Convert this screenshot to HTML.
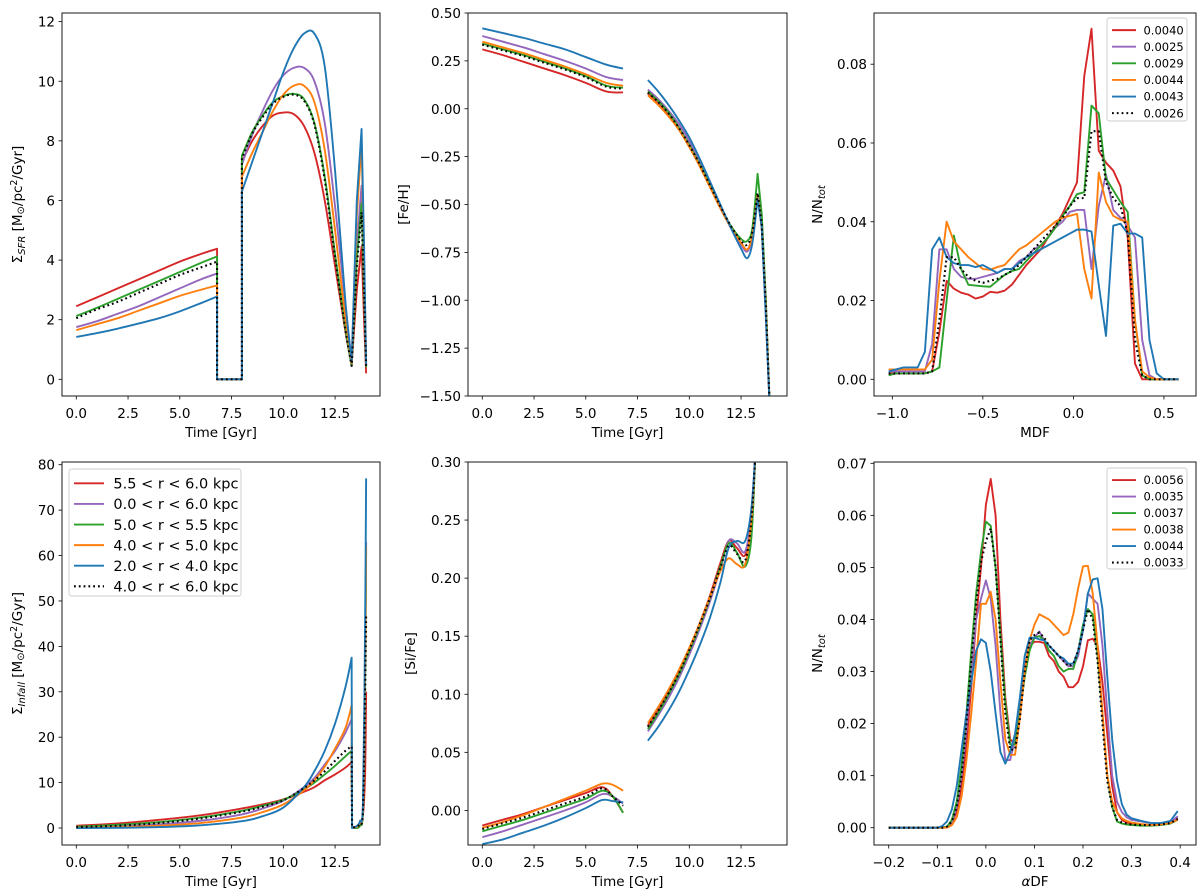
<!DOCTYPE html>
<html><head><meta charset="utf-8"><title>Chemical evolution panels</title>
<style>
html,body{margin:0;padding:0;background:#fff;}
svg{display:block;font-family:"DejaVu Sans","Liberation Sans",sans-serif;}
</style></head>
<body>
<svg id="fig" width="1200" height="892" viewBox="0 0 1200 892" xmlns="http://www.w3.org/2000/svg">
<rect width="1200" height="892" fill="#fff"/>
</svg>
<script>
const seriesNames = ['red','purple','green','orange','blue','black'];
const seriesColors = ['#d62728','#9467bd','#2ca02c','#ff7f0e','#1f77b4','#000000'];

// ---- Panel A: SFR vs time
const sfrTime = [0,1,2,3,4,5,6,6.8,6.8,8,8,8.5,9,9.5,10,10.5,11,11.5,12,12.5,13,13.3,13.55,13.78,13.9,14.0];
const sfrRed    = [2.45,2.75,3.05,3.35,3.65,3.95,4.2,4.38,0,0,7.3,8.0,8.5,8.85,8.95,8.9,8.5,7.6,6.0,3.8,1.6,0.5,3.0,4.45,2.0,0.2];
const sfrPurple = [1.75,1.95,2.2,2.45,2.75,3.05,3.35,3.55,0,0,7.2,8.2,9.0,9.7,10.2,10.45,10.45,10.0,8.6,5.8,2.5,0.6,4.5,6.5,3.5,0.5];
const sfrGreen  = [2.12,2.4,2.7,3.0,3.3,3.6,3.9,4.12,0,0,7.5,8.3,8.85,9.3,9.5,9.58,9.4,8.6,6.8,4.2,1.7,0.45,4.0,5.9,3.0,0.4];
const sfrOrange = [1.65,1.85,2.05,2.3,2.55,2.8,3.0,3.15,0,0,6.8,7.6,8.3,9.0,9.55,9.85,9.85,9.3,7.7,5.0,2.0,0.55,5.5,7.9,4.0,0.5];
const sfrBlue   = [1.42,1.55,1.7,1.87,2.05,2.28,2.55,2.78,0,0,6.3,7.3,8.3,9.3,10.3,11.1,11.6,11.6,10.5,7.0,2.6,0.6,6.0,8.4,4.5,0.5];
const sfrBlack  = [2.05,2.35,2.6,2.9,3.2,3.5,3.75,3.95,0,0,7.4,8.25,8.8,9.25,9.48,9.55,9.35,8.55,6.7,4.1,1.65,0.45,3.8,5.6,2.9,0.4];

// ---- Panel B: [Fe/H] vs time
const fehT1 = [0,1,2,3,4,5,6,6.8];
const fehT2 = [8,8.5,9,9.5,10,10.5,11,11.5,12,12.5,12.8,13.05,13.3,13.5,13.7,13.9];
const fehRed1 = [0.31,0.28,0.245,0.21,0.175,0.135,0.09,0.085];
const fehRed2 = [0.08,0.025,-0.035,-0.105,-0.195,-0.295,-0.405,-0.515,-0.615,-0.7,-0.735,-0.66,-0.45,-0.62,-1.05,-1.6];
const fehPurple1 = [0.38,0.35,0.32,0.285,0.25,0.21,0.165,0.15];
const fehPurple2 = [0.10,0.05,-0.01,-0.08,-0.17,-0.28,-0.39,-0.51,-0.62,-0.71,-0.745,-0.67,-0.45,-0.62,-1.05,-1.6];
const fehGreen1 = [0.34,0.31,0.28,0.245,0.21,0.17,0.12,0.11];
const fehGreen2 = [0.09,0.04,-0.02,-0.10,-0.19,-0.29,-0.40,-0.51,-0.61,-0.68,-0.69,-0.62,-0.34,-0.55,-1.0,-1.6];
const fehOrange1 = [0.35,0.32,0.29,0.255,0.22,0.18,0.135,0.12];
const fehOrange2 = [0.07,0.02,-0.04,-0.11,-0.20,-0.30,-0.41,-0.52,-0.62,-0.70,-0.735,-0.66,-0.45,-0.62,-1.05,-1.6];
const fehBlue1 = [0.42,0.395,0.37,0.34,0.31,0.27,0.23,0.21];
const fehBlue2 = [0.15,0.09,0.02,-0.06,-0.15,-0.26,-0.38,-0.50,-0.62,-0.73,-0.78,-0.70,-0.47,-0.62,-1.1,-1.6];
const fehBlack1 = [0.335,0.305,0.275,0.24,0.205,0.165,0.115,0.105];
const fehBlack2 = [0.085,0.035,-0.025,-0.10,-0.19,-0.29,-0.40,-0.51,-0.61,-0.69,-0.71,-0.64,-0.44,-0.6,-1.03,-1.6];

// ---- Panel C: MDF
const mdfX = [-1.02,-0.98,-0.94,-0.90,-0.86,-0.82,-0.78,-0.74,-0.70,-0.66,-0.62,-0.58,-0.54,-0.50,-0.46,-0.42,-0.38,-0.34,-0.30,-0.26,-0.22,-0.18,-0.14,-0.10,-0.06,-0.02,0.02,0.06,0.10,0.14,0.18,0.22,0.26,0.30,0.34,0.38,0.42,0.46,0.50,0.54,0.58];
const mdfRed    = [0.0015,0.0015,0.0015,0.0015,0.0015,0.0015,0.002,0.012,0.025,0.023,0.022,0.0215,0.0205,0.021,0.0222,0.022,0.0225,0.024,0.0265,0.029,0.031,0.033,0.036,0.039,0.042,0.046,0.05,0.077,0.089,0.058,0.055,0.053,0.049,0.036,0.004,0,0,0,0,0,0];
const mdfPurple = [0.002,0.002,0.002,0.002,0.002,0.002,0.009,0.033,0.033,0.028,0.026,0.0255,0.0255,0.026,0.0265,0.027,0.028,0.028,0.030,0.031,0.033,0.034,0.036,0.0385,0.04,0.0425,0.043,0.043,0.028,0.044,0.052,0.043,0.041,0.039,0.036,0.01,0.001,0,0,0,0];
const mdfGreen  = [0.001,0.0015,0.0015,0.0015,0.0015,0.0015,0.002,0.003,0.02,0.0365,0.028,0.024,0.0238,0.0236,0.0235,0.025,0.0265,0.0275,0.028,0.030,0.032,0.034,0.036,0.0385,0.0415,0.044,0.047,0.0475,0.0695,0.0675,0.051,0.048,0.045,0.0425,0.015,0.001,0,0,0,0,0];
const mdfOrange = [0.0025,0.0025,0.0025,0.0025,0.0025,0.0025,0.005,0.025,0.040,0.035,0.033,0.031,0.0295,0.028,0.0278,0.0285,0.029,0.031,0.033,0.034,0.0355,0.037,0.0385,0.04,0.041,0.0415,0.042,0.028,0.0205,0.0525,0.045,0.0415,0.0405,0.040,0.015,0.002,0.0005,0,0,0,0];
const mdfBlue   = [0.002,0.0025,0.003,0.003,0.003,0.007,0.033,0.036,0.031,0.0295,0.029,0.029,0.0285,0.029,0.028,0.027,0.028,0.028,0.0295,0.031,0.032,0.033,0.034,0.035,0.036,0.037,0.038,0.038,0.0375,0.024,0.011,0.039,0.0395,0.037,0.037,0.036,0.01,0.0015,0,0,0];
const mdfBlack  = [0.0015,0.0015,0.0015,0.0015,0.0015,0.0015,0.002,0.015,0.031,0.031,0.028,0.026,0.025,0.0245,0.025,0.0255,0.0265,0.0275,0.029,0.031,0.033,0.035,0.037,0.039,0.041,0.044,0.046,0.046,0.063,0.063,0.05,0.046,0.044,0.037,0.01,0.001,0,0,0,0,0];
const mdfLegend = ['0.0040','0.0025','0.0029','0.0044','0.0043','0.0026'];

// ---- Panel D: infall vs time
const infT = [0,2,4,6,8,9,10,11,11.5,12,12.5,13,13.3,13.32,13.5,13.7,13.85,13.95,14.0];
const infRed    = [0.5,1.0,1.8,2.8,4.3,5.2,6.3,8.0,9.0,10.5,11.8,13.3,14.5,0.3,0.2,0.8,3,12,30];
const infPurple = [0.1,0.3,0.8,1.6,3.0,4.3,6.0,9.0,11,14,17,21,24,0.2,0.2,1,5,35,63];
const infGreen  = [0.3,0.7,1.3,2.3,3.8,4.9,6.2,8.5,10,11.8,13.7,15.8,17,0.2,0,0.5,4,30,61];
const infOrange = [0.05,0.2,0.5,1.1,2.3,3.5,5.2,8.3,10.5,13.5,17.5,22,27,0.2,0.2,1,5,35,62];
const infBlue   = [0,0.05,0.2,0.6,1.5,2.6,4.5,9.0,12.5,17,23,31,37.5,0,0.3,1.5,6,45,77];
const infBlack  = [0.2,0.5,1.1,2.1,3.6,4.7,6.1,8.8,10.5,12.5,14.8,17,18,0.2,0.2,1,4,30,47];
const infLegend = ['5.5 < r < 6.0 kpc','0.0 < r < 6.0 kpc','5.0 < r < 5.5 kpc','4.0 < r < 5.0 kpc','2.0 < r < 4.0 kpc','4.0 < r < 6.0 kpc'];

// ---- Panel E: [Si/Fe] vs time
const siT1 = [0,1,2,3,4,5,5.8,6.3,6.8];
const siT2 = [8,8.5,9,9.5,10,10.5,11,11.5,11.9,12.3,12.7,13.0,13.2];
const siRed1 = [-0.013,-0.008,-0.003,0.003,0.009,0.015,0.02,0.012,-0.002];
const siRed2 = [0.073,0.087,0.102,0.119,0.139,0.161,0.185,0.213,0.232,0.226,0.22,0.25,0.31];
const siPurple1 = [-0.023,-0.018,-0.012,-0.006,0.0,0.007,0.014,0.012,0.006];
const siPurple2 = [0.068,0.082,0.097,0.114,0.134,0.156,0.18,0.208,0.232,0.23,0.223,0.255,0.31];
const siGreen1 = [-0.018,-0.013,-0.008,-0.002,0.004,0.01,0.017,0.012,-0.002];
const siGreen2 = [0.07,0.084,0.1,0.117,0.137,0.159,0.183,0.21,0.23,0.222,0.21,0.235,0.31];
const siOrange1 = [-0.015,-0.01,-0.004,0.003,0.01,0.017,0.023,0.022,0.017];
const siOrange2 = [0.075,0.089,0.104,0.121,0.14,0.161,0.184,0.206,0.217,0.212,0.212,0.25,0.31];
const siBlue1 = [-0.029,-0.025,-0.019,-0.013,-0.006,0.002,0.009,0.008,0.007];
const siBlue2 = [0.06,0.072,0.086,0.102,0.121,0.142,0.166,0.196,0.226,0.232,0.232,0.26,0.31];
const siBlack1 = [-0.016,-0.011,-0.006,0,0.006,0.012,0.019,0.012,0.004];
const siBlack2 = [0.072,0.086,0.101,0.118,0.138,0.16,0.183,0.209,0.228,0.221,0.215,0.25,0.31];

// ---- Panel F: alpha DF
const adfX = [-0.2,-0.15,-0.10,-0.09,-0.08,-0.07,-0.06,-0.05,-0.04,-0.03,-0.02,-0.01,0.00,0.01,0.02,0.03,0.04,0.05,0.06,0.07,0.08,0.09,0.10,0.11,0.12,0.13,0.14,0.15,0.16,0.17,0.18,0.19,0.20,0.21,0.22,0.23,0.24,0.25,0.26,0.27,0.28,0.29,0.30,0.32,0.34,0.36,0.38,0.395];
const adfRed    = [0,0,0,0,0.0002,0.001,0.003,0.008,0.016,0.027,0.04,0.05,0.062,0.067,0.06,0.04,0.025,0.017,0.016,0.022,0.03,0.035,0.0357,0.0357,0.0355,0.033,0.032,0.03,0.029,0.027,0.027,0.028,0.031,0.036,0.0363,0.035,0.028,0.018,0.008,0.003,0.0015,0.001,0.0008,0.0006,0.0005,0.0006,0.0009,0.002];
const adfPurple = [0,0,0,0,0.0002,0.001,0.004,0.01,0.019,0.03,0.04,0.044,0.0475,0.044,0.035,0.022,0.013,0.013,0.017,0.024,0.031,0.035,0.0365,0.0377,0.036,0.035,0.034,0.033,0.032,0.031,0.031,0.033,0.038,0.045,0.044,0.043,0.035,0.022,0.01,0.005,0.003,0.002,0.0015,0.0012,0.0009,0.0008,0.001,0.0022];
const adfGreen  = [0,0,0,0,0.0002,0.0015,0.005,0.012,0.022,0.034,0.045,0.053,0.0588,0.058,0.05,0.037,0.024,0.016,0.016,0.022,0.029,0.034,0.0365,0.0368,0.036,0.034,0.033,0.031,0.030,0.0305,0.0305,0.034,0.039,0.042,0.041,0.033,0.022,0.01,0.004,0.0012,0.0008,0.0006,0.0005,0.0004,0.0004,0.0005,0.0008,0.0015];
const adfOrange = [0,0,0,0,0,0.0005,0.002,0.006,0.013,0.022,0.032,0.043,0.043,0.0453,0.04,0.028,0.017,0.014,0.014,0.021,0.03,0.036,0.039,0.041,0.0405,0.040,0.039,0.038,0.037,0.0375,0.041,0.046,0.0502,0.0503,0.045,0.035,0.022,0.01,0.005,0.003,0.0018,0.0013,0.001,0.0007,0.0005,0.0006,0.0009,0.0015];
const adfBlue   = [0,0,0,0.0003,0.0012,0.0035,0.008,0.015,0.022,0.028,0.034,0.0362,0.0355,0.030,0.022,0.0145,0.0123,0.0145,0.018,0.025,0.033,0.0365,0.0365,0.0362,0.036,0.035,0.034,0.033,0.0325,0.0315,0.0315,0.034,0.038,0.045,0.0477,0.0479,0.042,0.029,0.017,0.009,0.0045,0.0025,0.0018,0.0013,0.0009,0.0009,0.0013,0.0032];
const adfBlack  = [0,0,0,0,0.0002,0.0012,0.004,0.01,0.02,0.032,0.043,0.051,0.055,0.0575,0.05,0.036,0.022,0.015,0.015,0.021,0.03,0.036,0.037,0.0375,0.0365,0.035,0.034,0.033,0.032,0.031,0.0315,0.034,0.038,0.042,0.04,0.032,0.02,0.009,0.004,0.0015,0.001,0.0008,0.0006,0.0005,0.0005,0.0006,0.0009,0.0017];
const adfLegend = ['0.0056','0.0035','0.0037','0.0038','0.0044','0.0033'];

const timeTicks = [0,2.5,5,7.5,10,12.5];
const NS = 'http://www.w3.org/2000/svg';
const svg = document.getElementById('fig');
let clipId = 0;

function mk(tag, attrs, parent){
  const e = document.createElementNS(NS, tag);
  for (const k in attrs) e.setAttribute(k, attrs[k]);
  if (parent) parent.appendChild(e);
  return e;
}
function fmt(v, d){ const s = Math.abs(v).toFixed(d); return (v < -1e-9 ? '\u2212' : '') + s; }

function makePanel(o){
  const g = mk('g', {}, svg);
  
  
  const sx = v => o.L + (v - o.xd[0]) / (o.xd[1] - o.xd[0]) * o.W;
  const sy = v => o.T + o.H - (v - o.yd[0]) / (o.yd[1] - o.yd[0]) * o.H;
  const cid = 'clip' + (clipId++);
  const cp = mk('clipPath', {id: cid}, g);
  mk('rect', {x:o.L, y:o.T, width:o.W, height:o.H}, cp);
  const plot = mk('g', {'clip-path':'url(#'+cid+')'}, g);
  
  
  const ax = mk('g', {}, g);
  
  
  o.xticks.forEach(t => {
    const x = sx(t);
    mk('line', {x1:x, x2:x, y1:o.T+o.H, y2:o.T+o.H+3.5, stroke:'#000', 'stroke-width':0.8}, ax);
    const tx = mk('text', {x:x, y:o.T+o.H+22, 'font-size':13.5, 'text-anchor':'middle', fill:'#000'}, ax);
    
    
    tx.textContent = fmt(t, o.xdec);
  });
  const ay = mk('g', {}, g);
  
  
  o.yticks.forEach(t => {
    const y = sy(t);
    mk('line', {x1:o.L-3.5, x2:o.L, y1:y, y2:y, stroke:'#000', 'stroke-width':0.8}, ay);
    const tx = mk('text', {x:o.L-7, y:y+5, 'font-size':13.5, 'text-anchor':'end', fill:'#000'}, ay);
    
    
    tx.textContent = fmt(t, o.ydec);
  });
  const xl = mk('text', {x:o.L+o.W/2, y:o.T+o.H+41, 'font-size':13.5, 'text-anchor':'middle', fill:'#000'}, g);
  
  
  xl.innerHTML = o.xlabel;
  const yl = mk('text', {x:0, y:0, 'font-size':13.5, 'text-anchor':'middle', fill:'#000',
    transform:'translate(' + o.ylx + ',' + (o.T+o.H/2) + ') rotate(-90)'}, g);
  
  
  yl.innerHTML = o.ylabel;
  const fr = mk('rect', {x:o.L, y:o.T, width:o.W, height:o.H, fill:'none', stroke:'#000', 'stroke-width':0.9}, g);
  
  
  return {g, plot, sx, sy};
}

// ranges: list of [startIdx, endIdx, smooth]; consecutive ranges share endpoints
function pathFor(pts, ranges){
  let d = 'M' + pts[ranges[0][0]][0].toFixed(2) + ',' + pts[ranges[0][0]][1].toFixed(2);
  ranges.forEach(r => {
    const a = r[0], b = r[1];
    for (let k = a; k < b; k++) {
      if (!r[2]) { d += 'L' + pts[k+1][0].toFixed(2) + ',' + pts[k+1][1].toFixed(2); continue; }
      const p0 = pts[Math.max(a,k-1)], p1 = pts[k], p2 = pts[k+1], p3 = pts[Math.min(b,k+2)];
      const c1 = [p1[0] + (p2[0]-p0[0])/6, p1[1] + (p2[1]-p0[1])/6];
      const c2 = [p2[0] - (p3[0]-p1[0])/6, p2[1] - (p3[1]-p1[1])/6];
      d += 'C' + c1[0].toFixed(2)+','+c1[1].toFixed(2)+' '+c2[0].toFixed(2)+','+c2[1].toFixed(2)+' '+p2[0].toFixed(2)+','+p2[1].toFixed(2);
    }
  });
  return d;
}

function drawLine(p, xs, ys, i, ranges){
  const pts = xs.map((x, k) => [p.sx(x), p.sy(ys[k])]);
  if (ranges === true) ranges = [[0, pts.length-1, true]];
  if (!ranges) ranges = [[0, pts.length-1, false]];
  const attrs = {d:pathFor(pts, ranges), fill:'none', stroke:seriesColors[i], 'stroke-width':1.9, 'stroke-linejoin':'round'};
  if (i === 5) { attrs['stroke-dasharray'] = '1.8,3'; attrs['stroke-width'] = 2.1; }
  const e = mk('path', attrs, p.plot);
  
  
}

function legend(p, x, y, w, h, rowH, lineLen, fs, labels){
  const lg = mk('g', {}, p.g);
  
  
  mk('rect', {x:x, y:y, width:w, height:h, rx:2.5, fill:'#fff', 'fill-opacity':0.8, stroke:'#ccc', 'stroke-width':0.9}, lg);
  labels.forEach((lab, i) => {
    const cy = y + rowH*0.55 + 3 + i*rowH;
    const la = {x1:x+5, x2:x+5+lineLen, y1:cy, y2:cy, stroke:seriesColors[i], 'stroke-width':1.9};
    if (i === 5) { la['stroke-dasharray'] = '1.8,3'; la['stroke-width'] = 2.1; }
    const ln = mk('line', la, lg);
    
    
    const t = mk('text', {x:x+5+lineLen+fs*0.65, y:cy+fs*0.36, 'font-size':fs, fill:'#000'}, lg);
    
    
    t.textContent = lab;
  });
}

const sigUnits = ' [M<tspan font-size="10" dy="2">\u2299</tspan><tspan dy="-2">/pc</tspan><tspan font-size="9.5" dy="-5">2</tspan><tspan dy="5">/Gyr]</tspan>';

// Panel A
const pA = makePanel({name:'sfr-panel', L:62, T:13, W:318, H:383, xd:[-0.69,14.67], yd:[-0.56,12.29],
  xticks:timeTicks, xdec:1, yticks:[0,2,4,6,8,10,12], ydec:0, ylx:22,
  xlabel:'Time [Gyr]', ylabel:'\u03A3<tspan font-size="10" font-style="italic" dy="3">SFR</tspan><tspan dy="-3">' + sigUnits + '</tspan>'});
const sfrRanges = [[0,7,true],[7,10,false],[10,21,true],[21,25,false]];
[sfrRed,sfrPurple,sfrGreen,sfrOrange,sfrBlue,sfrBlack].forEach((s,i)=>drawLine(pA, sfrTime, s, i, sfrRanges));

// Panel B
const pB = makePanel({name:'feh-panel', L:468, T:13, W:319, H:383, xd:[-0.69,14.72], yd:[-1.5,0.5],
  xticks:timeTicks, xdec:1, yticks:[-1.5,-1.25,-1,-0.75,-0.5,-0.25,0,0.25,0.5], ydec:2, ylx:408,
  xlabel:'Time [Gyr]', ylabel:'[Fe/H]'});
[[fehRed1,fehRed2],[fehPurple1,fehPurple2],[fehGreen1,fehGreen2],[fehOrange1,fehOrange2],[fehBlue1,fehBlue2],[fehBlack1,fehBlack2]]
  .forEach((s,i)=>{ drawLine(pB, fehT1, s[0], i, true); drawLine(pB, fehT2, s[1], i, [[0,12,true],[12,15,false]]); });

// Panel C
const pC = makePanel({name:'mdf-panel', L:874, T:13, W:322, H:383, xd:[-1.101,0.677], yd:[-0.00424,0.0930],
  xticks:[-1,-0.5,0,0.5], xdec:1, yticks:[0,0.02,0.04,0.06,0.08], ydec:2, ylx:822,
  xlabel:'MDF', ylabel:'N/N<tspan font-size="10" font-style="italic" dy="3">tot</tspan>'});
[mdfRed,mdfPurple,mdfGreen,mdfOrange,mdfBlue,mdfBlack].forEach((s,i)=>drawLine(pC, mdfX, s, i, false));
legend(pC, 1107, 18, 80, 103, 16.6, 24, 11.5, mdfLegend);

// Panel D
const pD = makePanel({name:'infall-panel', L:62, T:462, W:318, H:383, xd:[-0.69,14.67], yd:[-3.74,80.6],
  xticks:timeTicks, xdec:1, yticks:[0,10,20,30,40,50,60,70,80], ydec:0, ylx:22,
  xlabel:'Time [Gyr]', ylabel:'\u03A3<tspan font-size="10" font-style="italic" dy="3">Infall</tspan><tspan dy="-3">' + sigUnits + '</tspan>'});
const infRanges = [[0,12,true],[12,13,false],[13,18,true]];
[infRed,infPurple,infGreen,infOrange,infBlue,infBlack].forEach((s,i)=>drawLine(pD, infT, s, i, infRanges));
legend(pD, 69, 469, 172, 127, 20.6, 30, 14.5, infLegend);

// Panel E
const pE = makePanel({name:'sife-panel', L:468, T:462, W:319, H:383, xd:[-0.69,14.72], yd:[-0.0298,0.30],
  xticks:timeTicks, xdec:1, yticks:[0,0.05,0.1,0.15,0.2,0.25,0.3], ydec:2, ylx:415,
  xlabel:'Time [Gyr]', ylabel:'[Si/Fe]'});
[[siRed1,siRed2],[siPurple1,siPurple2],[siGreen1,siGreen2],[siOrange1,siOrange2],[siBlue1,siBlue2],[siBlack1,siBlack2]]
  .forEach((s,i)=>{ drawLine(pE, siT1, s[0], i, true); drawLine(pE, siT2, s[1], i, true); });

// Panel F
const pF = makePanel({name:'alpha-df-panel', L:874, T:462, W:322, H:383, xd:[-0.2303,0.4326], yd:[-0.00332,0.07025],
  xticks:[-0.2,-0.1,0,0.1,0.2,0.3,0.4], xdec:1, yticks:[0,0.01,0.02,0.03,0.04,0.05,0.06,0.07], ydec:2, ylx:822,
  xlabel:'<tspan font-style="italic">\u03B1</tspan>DF', ylabel:'N/N<tspan font-size="10" font-style="italic" dy="3">tot</tspan>'});
[adfRed,adfPurple,adfGreen,adfOrange,adfBlue,adfBlack].forEach((s,i)=>drawLine(pF, adfX, s, i, false));
legend(pF, 1107, 468, 80, 101, 16.5, 24, 11.5, adfLegend);
</script>
</body></html>
